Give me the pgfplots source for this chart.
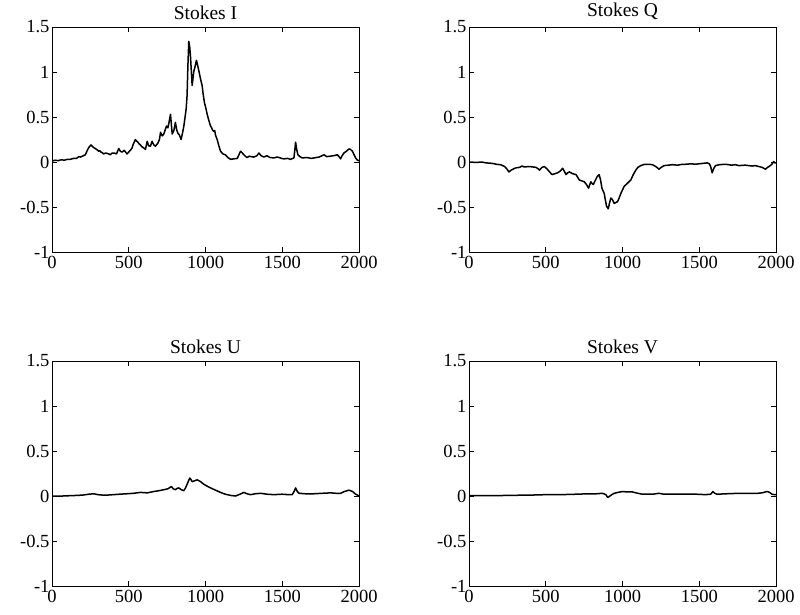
\documentclass[border=0pt]{standalone}
\usepackage{pgfplots}
\pgfplotsset{compat=1.18}
\usepackage{fontspec}
\setmainfont{Liberation Serif}
\begin{document}
\begin{tikzpicture}
\pgfplotsset{
  stk/.style={
    scale only axis,
    width=307pt, height=225pt,
    xmin=0, xmax=2000, ymin=-1, ymax=1.5,
    xtick={0,500,1000,1500,2000},
    xticklabels={0,500,1000,1500,2000},
    ytick={-1,-0.5,0,0.5,1,1.5},
    yticklabels={-1,-0.5,0,0.5,1,1.5},
    tick align=inside,
    major tick length=5pt,
    axis line style={line width=0.9pt},
    every tick/.style={line width=0.9pt, black},
    tick label style={font=\fontsize{18.5}{20}\selectfont},
    xticklabel style={yshift=-1pt},
    yticklabel style={xshift=1pt},
    title style={font=\fontsize{19.5}{21}\selectfont, at={(0.5,1)}, anchor=south, yshift=-2pt},
  },
  crv/.style={black, line width=1.5pt, line join=round, mark=none},
}
\path[use as bounding box] (0pt,0pt) rectangle (800pt,-615pt);

\begin{axis}[stk, at={(52pt,-252pt)}, anchor=south west, title={Stokes I}]
\addplot[crv] coordinates {
(0,0.01) (20,0.02) (40,0.015) (60,0.025) (80,0.02) (100,0.03) (120,0.03) (140,0.04) (160,0.04) (175,0.06) (185,0.055) (205,0.07) (217,0.08) (230,0.13) (239,0.16) (254,0.19) (265,0.17) (272,0.16) (282,0.15) (290,0.14) (298,0.13) (304,0.12) (312,0.125) (320,0.11) (330,0.1) (337,0.09) (348,0.1) (360,0.095) (370,0.09) (380,0.08) (392,0.1) (405,0.1) (420,0.09) (435,0.15) (445,0.12) (457,0.11) (470,0.13) (480,0.11) (489,0.09) (505,0.12) (520,0.15) (530,0.2) (543,0.25) (552,0.23) (560,0.22) (568,0.2) (576,0.19) (585,0.17) (595,0.16) (609,0.14) (620,0.23) (630,0.18) (641,0.175) (652,0.23) (663,0.19) (674,0.175) (690,0.21) (700,0.25) (707,0.33) (718,0.29) (728,0.31) (738,0.36) (746,0.40) (755,0.38) (760,0.42) (772,0.53) (783,0.31) (794,0.35) (804,0.44) (812,0.36) (820,0.32) (830,0.3) (841,0.25) (850,0.32) (859,0.40) (867,0.5) (874,0.59) (880,0.74) (885,1.05) (891,1.34) (897,1.28) (902,1.18) (908,1.0) (913,0.85) (918,0.92) (924,1.01) (932,1.06) (941,1.13) (948,1.08) (957,1.01) (968,0.92) (978,0.85) (985,0.75) (993,0.66) (1002,0.6) (1011,0.53) (1022,0.46) (1033,0.40) (1040,0.38) (1044,0.36) (1054,0.34) (1060,0.35) (1065,0.3) (1076,0.25) (1087,0.18) (1098,0.12) (1113,0.09) (1130,0.08) (1145,0.05) (1163,0.03) (1185,0.035) (1207,0.04) (1218,0.08) (1228,0.12) (1240,0.1) (1250,0.08) (1262,0.06) (1272,0.05) (1285,0.065) (1295,0.06) (1315,0.055) (1335,0.07) (1348,0.10) (1362,0.07) (1380,0.055) (1400,0.07) (1420,0.05) (1446,0.045) (1465,0.055) (1480,0.05) (1495,0.04) (1511,0.035) (1535,0.04) (1554,0.03) (1576,0.045) (1581,0.12) (1587,0.22) (1594,0.14) (1602,0.08) (1615,0.06) (1630,0.045) (1660,0.05) (1690,0.04) (1707,0.045) (1740,0.055) (1772,0.08) (1790,0.06) (1815,0.065) (1835,0.07) (1859,0.08) (1870,0.06) (1880,0.035) (1890,0.07) (1902,0.10) (1918,0.12) (1935,0.145) (1945,0.14) (1957,0.12) (1968,0.08) (1978,0.045) (1990,0.02) (2000,0.015)
};
\end{axis}

\begin{axis}[stk, at={(469pt,-252pt)}, anchor=south west, title={Stokes Q}]
\addplot[crv] coordinates {
(0,0) (50,-0.005) (80,0.0) (113,-0.01) (150,-0.015) (177,-0.025) (205,-0.03) (232,-0.05) (248,-0.08) (260,-0.11) (275,-0.09) (286,-0.08) (305,-0.065) (329,-0.06) (345,-0.045) (360,-0.055) (394,-0.05) (415,-0.055) (437,-0.06) (450,-0.075) (459,-0.09) (475,-0.06) (491,-0.05) (510,-0.08) (525,-0.11) (541,-0.14) (560,-0.13) (578,-0.12) (595,-0.1) (610,-0.07) (620,-0.1) (632,-0.14) (643,-0.12) (654,-0.11) (675,-0.13) (697,-0.14) (708,-0.17) (719,-0.20) (735,-0.21) (751,-0.22) (765,-0.25) (779,-0.29) (787,-0.25) (794,-0.22) (802,-0.24) (810,-0.25) (818,-0.22) (827,-0.19) (836,-0.16) (848,-0.14) (857,-0.2) (866,-0.29) (873,-0.32) (881,-0.35) (888,-0.42) (896,-0.49) (907,-0.52) (915,-0.46) (924,-0.40) (935,-0.42) (946,-0.46) (957,-0.45) (968,-0.44) (978,-0.40) (989,-0.35) (1000,-0.31) (1011,-0.27) (1030,-0.24) (1054,-0.20) (1070,-0.14) (1087,-0.09) (1100,-0.06) (1119,-0.04) (1145,-0.025) (1173,-0.025) (1195,-0.03) (1216,-0.05) (1228,-0.065) (1238,-0.08) (1252,-0.06) (1271,-0.04) (1300,-0.035) (1325,-0.03) (1360,-0.035) (1390,-0.025) (1411,-0.025) (1450,-0.02) (1475,-0.025) (1498,-0.02) (1525,-0.015) (1552,-0.01) (1566,-0.02) (1574,-0.05) (1584,-0.12) (1595,-0.07) (1606,-0.04) (1630,-0.03) (1671,-0.025) (1710,-0.035) (1735,-0.03) (1758,-0.04) (1800,-0.035) (1844,-0.045) (1865,-0.04) (1887,-0.05) (1910,-0.06) (1931,-0.08) (1945,-0.06) (1963,-0.04) (1975,-0.02) (1985,0.005) (1993,-0.01) (2000,-0.01)
};
\end{axis}

\begin{axis}[stk, at={(52pt,-586pt)}, anchor=south west, title={Stokes U}]
\addplot[crv] coordinates {
(0,0.0) (70,0.0) (141,0.005) (200,0.01) (240,0.02) (272,0.025) (300,0.015) (330,0.01) (359,0.01) (400,0.015) (440,0.02) (489,0.025) (530,0.03) (576,0.04) (620,0.035) (663,0.05) (700,0.06) (728,0.07) (755,0.08) (778,0.105) (790,0.08) (804,0.07) (815,0.085) (826,0.09) (842,0.07) (859,0.06) (870,0.09) (880,0.13) (890,0.17) (898,0.20) (906,0.18) (913,0.16) (930,0.17) (946,0.18) (968,0.16) (989,0.13) (1010,0.11) (1033,0.09) (1065,0.065) (1098,0.04) (1120,0.025) (1141,0.015) (1170,0.005) (1196,0.0) (1225,0.02) (1250,0.04) (1270,0.025) (1293,0.015) (1325,0.025) (1359,0.03) (1400,0.02) (1446,0.015) (1500,0.02) (1540,0.015) (1565,0.015) (1577,0.05) (1587,0.09) (1598,0.05) (1609,0.03) (1650,0.025) (1707,0.025) (1760,0.03) (1815,0.035) (1850,0.03) (1880,0.03) (1905,0.05) (1935,0.065) (1958,0.05) (1978,0.02) (1990,0.01) (2000,0.0)
};
\end{axis}

\begin{axis}[stk, at={(469pt,-586pt)}, anchor=south west, title={Stokes V}]
\addplot[crv] coordinates {
(0,0.005) (100,0.005) (200,0.005) (300,0.008) (400,0.01) (500,0.015) (600,0.015) (700,0.02) (780,0.025) (830,0.025) (870,0.03) (892,0.015) (903,-0.015) (910,-0.01) (918,0.0) (930,0.015) (946,0.03) (970,0.04) (1000,0.05) (1030,0.045) (1065,0.045) (1100,0.03) (1130,0.02) (1165,0.02) (1196,0.02) (1238,0.03) (1270,0.02) (1330,0.02) (1411,0.02) (1480,0.02) (1541,0.015) (1575,0.02) (1589,0.05) (1600,0.03) (1617,0.02) (1680,0.025) (1758,0.03) (1830,0.03) (1880,0.03) (1909,0.035) (1930,0.045) (1942,0.05) (1958,0.04) (1974,0.02) (1990,0.015) (2000,0.015)
};
\end{axis}
\end{tikzpicture}
\end{document}
